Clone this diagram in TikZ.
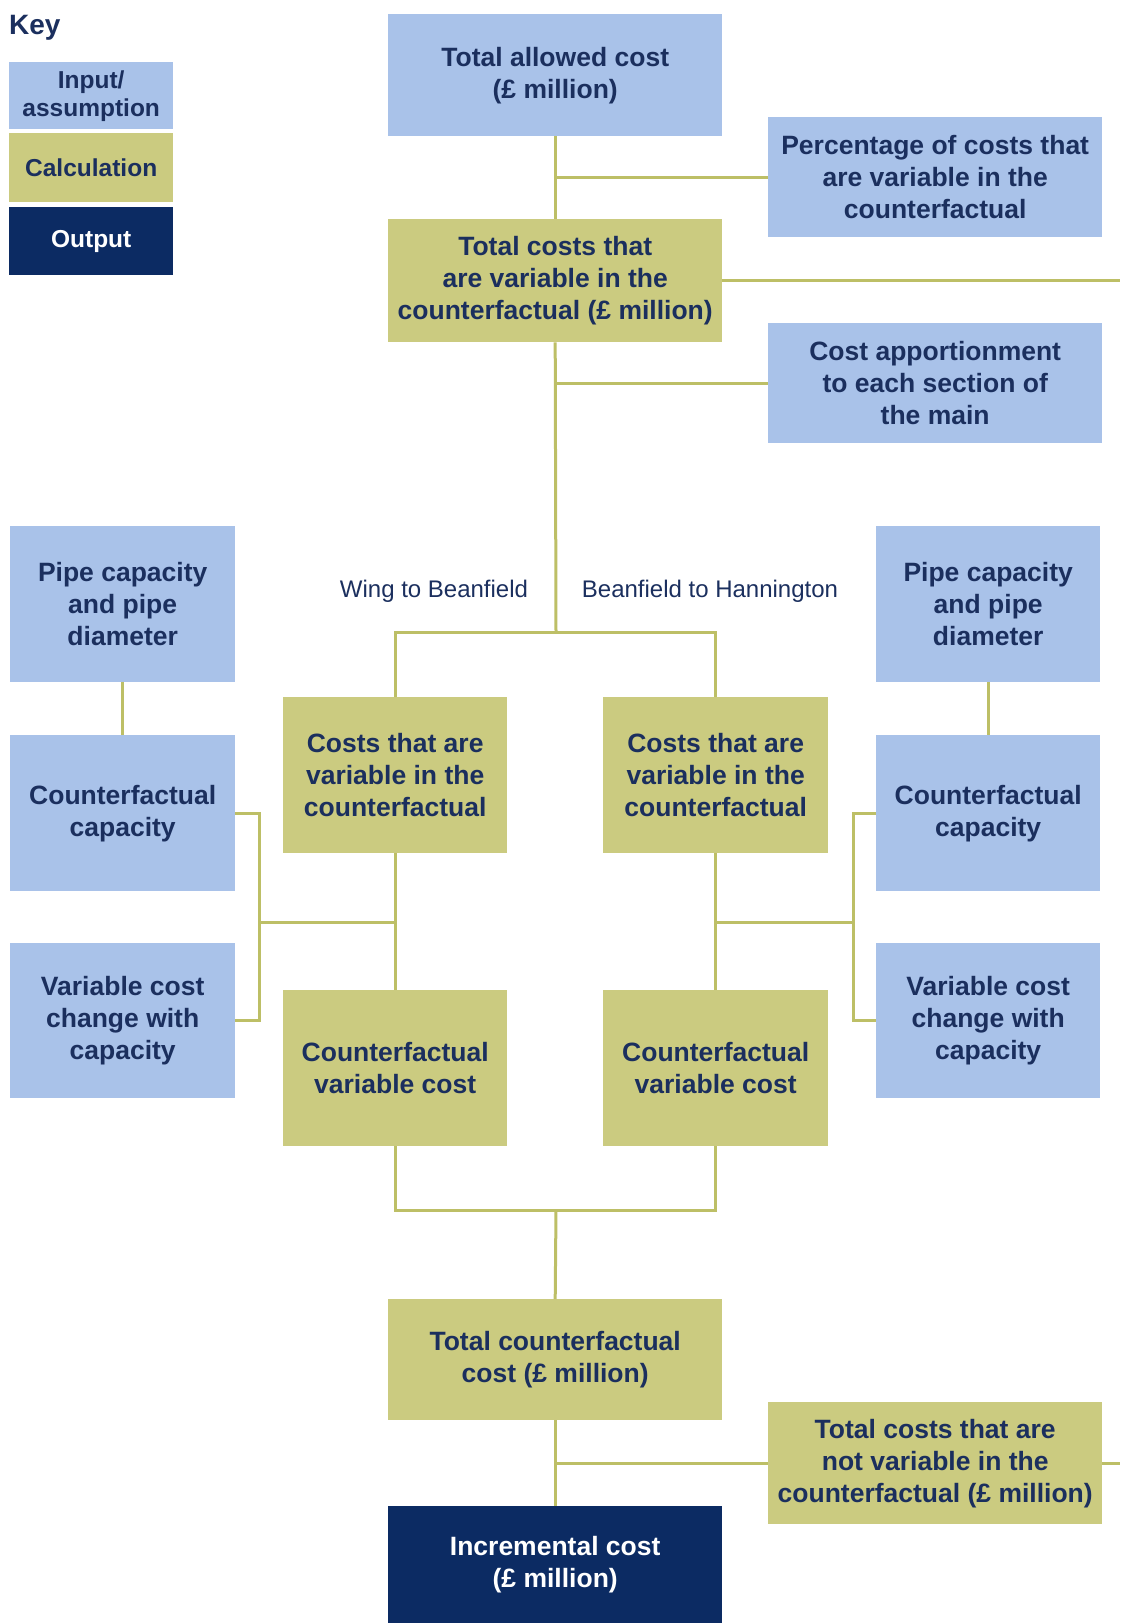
\documentclass[tikz,border=0pt]{standalone}
\usepackage{fontspec}
\setmainfont{Liberation Sans}
\usepackage{tikz}
\usetikzlibrary{calc}
\usepackage{xcolor}
\definecolor{inputblue}{HTML}{A9C2E9}
\definecolor{calcolive}{HTML}{CBCB80}
\definecolor{outnavy}{HTML}{0C2B63}
\definecolor{textnavy}{HTML}{1B2F5E}
\definecolor{linkolive}{HTML}{BDBF66}

\begin{document}
\begin{tikzpicture}[
  x=1pt, y=-1pt,
  font=\bfseries\fontsize{26.5}{32}\selectfont,
  box/.style={
    inner sep=0pt,
    align=center,
    anchor=north west,
    text=textnavy
  },
  inputbox/.style={box, fill=inputblue},
  calcbox/.style={box, fill=calcolive},
  outbox/.style={box, fill=outnavy, text=white},
  widebox/.style={minimum width=334pt, minimum height=121pt},
  narrowbox/.style={minimum width=225pt, minimum height=156pt},
  keybox/.style={
    minimum width=164pt,
    font=\bfseries\fontsize{24.5}{28}\selectfont
  },
  link/.style={
    draw=linkolive,
    line width=3pt
  },
  sectionlabel/.style={
    font=\mdseries\fontsize{24}{28}\selectfont,
    text=textnavy
  }
]

  \useasboundingbox (0,0) rectangle (1120,1623);

  % -------------------------------------------------------------
  % KEY
  % -------------------------------------------------------------
  \node[anchor=north west, inner sep=0pt, text=textnavy, font=\bfseries\fontsize{28}{32}\selectfont] (keytitle) at (9,15) {Key};
  \node[inputbox, keybox, minimum height=67pt] (keyinput) at (9,62) {Input/\\assumption};
  \node[calcbox, keybox, minimum height=69pt] (keycalc) at (9,133) {Calculation};
  \node[outbox, keybox, minimum height=68pt] (keyoutput) at (9,207) {Output};

  % -------------------------------------------------------------
  % TOP: TOTAL COSTS AND APPORTIONMENT
  % -------------------------------------------------------------
  \node[inputbox, widebox, minimum height=122pt] (allowed) at (388,14) {
    Total allowed cost\\(\pounds\ million)
  };
  \node[inputbox, widebox, minimum height=120pt] (percent) at (768,117) {
    Percentage of costs that\\are variable in the\\counterfactual
  };
  \node[calcbox, widebox, minimum height=123pt] (varcost) at (388,219) {
    Total costs that\\are variable in the\\counterfactual (\pounds\ million)
  };
  \node[inputbox, widebox, minimum height=120pt] (apportion) at (768,323) {
    Cost apportionment\\to each section of\\the main
  };

  \coordinate (rightedge) at (1120,0);
  \coordinate (split) at (556,632);

  \draw[link] (allowed.south) -- (varcost.north);
  \draw[link] (allowed.south |- percent.west) -- (percent.west);
  \draw[link] (varcost.east) -- (varcost.east -| rightedge);
  \draw[link] (varcost.south) -- (split);
  \draw[link] (varcost.south |- apportion.west) -- (apportion.west);

  % -------------------------------------------------------------
  % SECTIONS: WING TO BEANFIELD, BEANFIELD TO HANNINGTON
  % -------------------------------------------------------------
  \node[sectionlabel] (wingsec) at (434,591) {Wing to Beanfield};
  \node[sectionlabel] (hannsec) at (710,591) {Beanfield to Hannington};

  % Left section
  \node[inputbox, narrowbox] (pipeL) at (10,526) {Pipe capacity\\and pipe\\diameter};
  \node[inputbox, narrowbox] (capL) at (10,735) {Counterfactual\\capacity};
  \node[inputbox, narrowbox, minimum height=155pt] (changeL) at (10,943) {Variable cost\\change with\\capacity};
  \node[calcbox, narrowbox, minimum width=224pt] (varL) at (283,697) {Costs that are\\variable in the\\counterfactual};
  \node[calcbox, narrowbox, minimum width=224pt] (cvcL) at (283,990) {Counterfactual\\variable cost};

  % Right section
  \node[inputbox, narrowbox, minimum width=224pt] (pipeR) at (876,526) {Pipe capacity\\and pipe\\diameter};
  \node[inputbox, narrowbox, minimum width=224pt] (capR) at (876,735) {Counterfactual\\capacity};
  \node[inputbox, narrowbox, minimum width=224pt, minimum height=155pt] (changeR) at (876,943) {Variable cost\\change with\\capacity};
  \node[calcbox, narrowbox] (varR) at (603,697) {Costs that are\\variable in the\\counterfactual};
  \node[calcbox, narrowbox] (cvcR) at (603,990) {Counterfactual\\variable cost};

  \coordinate (bracketL) at (259,922);
  \coordinate (bracketR) at (853,922);
  \coordinate (join) at (556,1210);

  \draw[link] (varL.north) |- (varR.north |- split) -- (varR.north);
  \draw[link] (pipeL.south) -- (capL.north);
  \draw[link] (pipeR.south) -- (capR.north);
  \draw[link] (varL.south) -- (cvcL.north);
  \draw[link] (varR.south) -- (cvcR.north);
  \draw[link] (capL.east) -| (bracketL) |- (changeL.east);
  \draw[link] (bracketL) -- (bracketL -| varL.south);
  \draw[link] (capR.west) -| (bracketR) |- (changeR.west);
  \draw[link] (bracketR) -- (bracketR -| varR.south);
  \draw[link] (cvcL.south) |- (join) -| (cvcR.south);

  % -------------------------------------------------------------
  % BOTTOM: TOTAL COUNTERFACTUAL AND INCREMENTAL COST
  % -------------------------------------------------------------
  \node[calcbox, widebox] (totalcf) at (388,1299) {
    Total counterfactual\\cost (\pounds\ million)
  };
  \node[calcbox, widebox, minimum height=122pt] (notvar) at (768,1402) {
    Total costs that are\\not variable in the\\counterfactual (\pounds\ million)
  };
  \node[outbox, widebox, minimum height=117pt] (incremental) at (388,1506) {
    Incremental cost\\(\pounds\ million)
  };

  \draw[link] (join) -- (totalcf.north);
  \draw[link] (totalcf.south) -- (incremental.north);
  \draw[link] (totalcf.south |- notvar.west) -- (notvar.west);
  \draw[link] (notvar.east) -- (notvar.east -| rightedge);

\end{tikzpicture}
\end{document}
